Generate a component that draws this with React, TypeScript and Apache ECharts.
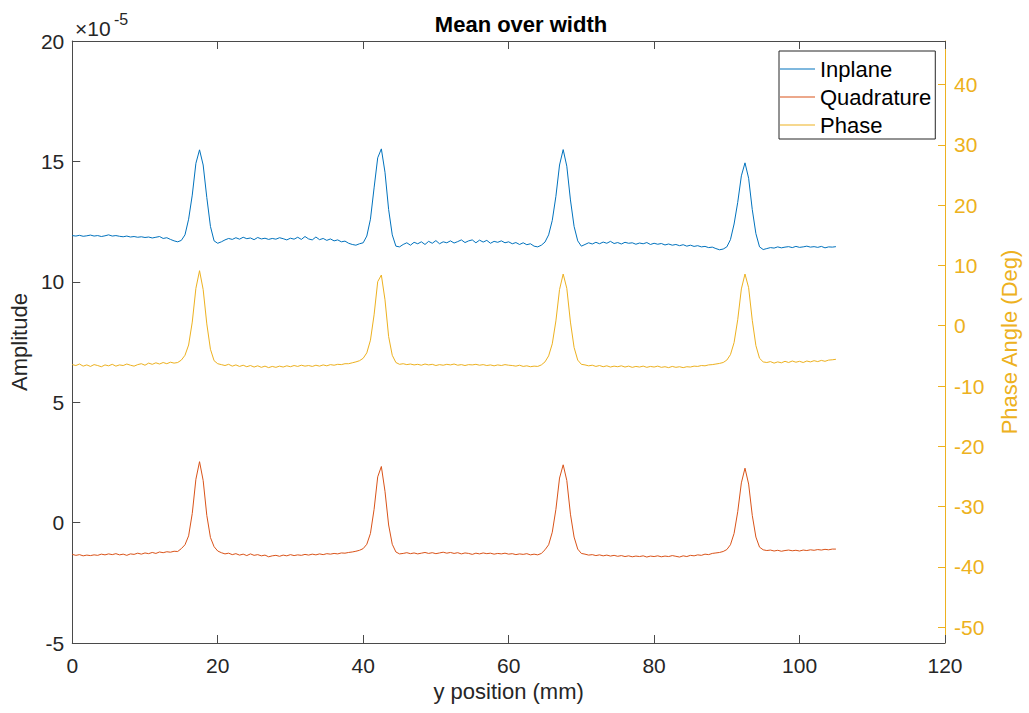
import React, { useEffect, useRef } from "react";
import * as echarts from "echarts";

// Sampling grid of the profile (mm between samples, starting at 0 mm)
const STEP_MM = 0.5;

// Amplitudes in units of 1e-5
const inplane = [
  11.92, 11.9, 11.93, 11.89, 11.91, 11.94, 11.9, 11.92, 11.88, 11.91, 11.95, 11.9, 11.92, 11.89, 11.87, 11.9, 11.86, 11.88, 11.85, 11.87, 11.84, 11.86, 11.82, 11.85, 11.88, 11.8, 11.83, 11.76, 11.7, 11.66,
  11.72, 11.95, 12.6, 13.6, 14.92, 15.48, 14.85, 13.5, 12.3, 11.7, 11.6,
  11.66, 11.74, 11.8, 11.76, 11.83, 11.77, 11.85, 11.79, 11.82, 11.75, 11.84, 11.78, 11.81, 11.76, 11.8, 11.77, 11.83, 11.79, 11.74, 11.81, 11.77, 11.85, 11.76, 11.88, 11.78, 11.74, 11.86, 11.75, 11.8, 11.72, 11.78, 11.7, 11.74, 11.66, 11.69, 11.6, 11.55, 11.52, 11.58,
  11.62, 11.9, 12.6, 13.9, 15.15, 15.52, 14.55, 13.0, 11.95, 11.48, 11.45,
  11.55, 11.62, 11.52, 11.64, 11.58, 11.66, 11.55, 11.68, 11.6, 11.71, 11.58, 11.66, 11.62, 11.7, 11.61, 11.67, 11.74, 11.63, 11.7, 11.74, 11.62, 11.73, 11.65, 11.72, 11.6, 11.68, 11.64, 11.7, 11.62, 11.66, 11.58, 11.63, 11.55, 11.62, 11.54, 11.58, 11.48, 11.45, 11.52,
  11.65, 11.95, 12.55, 13.55, 14.85, 15.49, 14.8, 13.4, 12.3, 11.7, 11.48,
  11.55, 11.62, 11.57, 11.64, 11.58, 11.65, 11.6, 11.68, 11.59, 11.63, 11.57, 11.64, 11.6, 11.62, 11.56, 11.61, 11.58, 11.63, 11.55, 11.6, 11.56, 11.59, 11.53, 11.57, 11.52, 11.55, 11.5, 11.54, 11.48, 11.52, 11.47, 11.5, 11.45, 11.47, 11.42, 11.44, 11.38, 11.33, 11.36,
  11.45, 11.75, 12.4, 13.3, 14.4, 14.94, 14.3, 13.0, 12.0, 11.45, 11.34,
  11.38, 11.42, 11.4, 11.45, 11.41, 11.44, 11.46, 11.42, 11.47, 11.43, 11.45, 11.48, 11.44, 11.46, 11.43, 11.47, 11.41, 11.45, 11.44, 11.46,
];

const quadrature = [
  -1.32, -1.36, -1.33, -1.38, -1.35, -1.37, -1.34, -1.36, -1.31, -1.34, -1.3, -1.33, -1.29, -1.34, -1.31, -1.36, -1.3, -1.32, -1.27, -1.31, -1.26, -1.29, -1.24, -1.28, -1.22, -1.25, -1.21, -1.23, -1.19, -1.2,
  -1.08, -0.92, -0.55, 0.38, 1.8, 2.53, 1.75, 0.3, -0.62, -1.0, -1.18,
  -1.25, -1.3, -1.27, -1.33, -1.29, -1.35, -1.31, -1.37, -1.3, -1.36, -1.33, -1.38, -1.35, -1.42, -1.38, -1.36, -1.4, -1.35, -1.38, -1.33, -1.37, -1.34, -1.36, -1.32, -1.35, -1.31, -1.34, -1.3, -1.33, -1.29, -1.31, -1.28, -1.3, -1.26, -1.27, -1.24, -1.22, -1.19, -1.15,
  -1.08, -0.9, -0.45, 0.55, 1.9, 2.33, 1.3, -0.1, -0.9, -1.22, -1.3,
  -1.28, -1.25, -1.29, -1.26, -1.3, -1.27, -1.24, -1.28, -1.25, -1.29, -1.26, -1.23, -1.27, -1.24, -1.28, -1.25, -1.3, -1.26, -1.28, -1.32, -1.27, -1.3, -1.26, -1.29, -1.27, -1.31, -1.28, -1.3, -1.27, -1.31, -1.29, -1.33, -1.3, -1.32, -1.29, -1.34, -1.31, -1.34, -1.28,
  -1.13, -0.92, -0.4, 0.55, 1.85, 2.4, 1.75, 0.35, -0.6, -1.1, -1.28,
  -1.31, -1.35, -1.33, -1.37, -1.34, -1.38, -1.35, -1.39, -1.36, -1.4, -1.37, -1.41, -1.38, -1.42, -1.39, -1.41, -1.38, -1.43, -1.39, -1.41, -1.38, -1.42, -1.39, -1.41, -1.37, -1.4, -1.43, -1.38, -1.41, -1.36, -1.38, -1.34, -1.36, -1.31, -1.33, -1.28, -1.26, -1.24, -1.2,
  -1.12, -0.92, -0.45, 0.45, 1.65, 2.26, 1.6, 0.3, -0.6, -1.02, -1.13,
  -1.16, -1.14, -1.18, -1.15, -1.19, -1.16, -1.14, -1.17, -1.15, -1.18, -1.14, -1.16, -1.13, -1.15, -1.12, -1.14, -1.11, -1.13, -1.1, -1.1,
];

// Phase angle in degrees (right axis)
const phase = [
  -6.45, -6.6, -6.35, -6.7, -6.5, -6.75, -6.45, -6.6, -6.8, -6.5, -6.65, -6.4, -6.7, -6.5, -6.6, -6.35, -6.55, -6.7, -6.45, -6.3, -6.55, -6.2, -6.4, -6.15, -6.35, -6.1, -6.3, -6.05, -6.2, -6.1,
  -5.7, -4.9, -3.2, 0.6, 6.2, 9.12, 6.0, 0.3, -3.9, -5.8, -6.3,
  -6.45, -6.6, -6.4, -6.7, -6.5, -6.75, -6.55, -6.8, -6.6, -6.85, -6.65, -6.9, -6.7, -6.95, -6.75, -6.9, -6.7, -6.85, -6.65, -6.8, -6.6, -6.75, -6.55, -6.7, -6.6, -6.75, -6.55, -6.7, -6.5, -6.65, -6.45, -6.55, -6.4, -6.45, -6.3, -6.3, -6.15, -6.0, -5.8,
  -5.4, -4.5, -2.4, 1.8, 7.3, 8.4, 4.3, -1.8, -4.9, -6.1, -6.4,
  -6.3, -6.45, -6.35, -6.5, -6.4, -6.55, -6.35, -6.5, -6.4, -6.6, -6.45, -6.55, -6.4, -6.5, -6.35, -6.55, -6.45, -6.6, -6.45, -6.5, -6.4, -6.55, -6.45, -6.6, -6.5, -6.65, -6.5, -6.6, -6.45, -6.55, -6.6, -6.7, -6.55, -6.75, -6.65, -6.8, -6.7, -6.75, -6.5,
  -6.0, -5.0, -3.0, 0.8, 6.0, 8.57, 6.2, 0.6, -3.6, -5.7, -6.4,
  -6.5, -6.65, -6.55, -6.75, -6.6, -6.8, -6.65, -6.85, -6.7, -6.8, -6.65, -6.85, -6.7, -6.9, -6.75, -6.85, -6.7, -6.9, -6.75, -6.85, -6.7, -6.9, -6.8, -6.95, -6.75, -6.9, -6.8, -6.95, -6.8, -6.85, -6.7, -6.75, -6.6, -6.65, -6.5, -6.45, -6.35, -6.25, -6.1,
  -5.7, -4.8, -2.8, 1.0, 6.1, 8.57, 6.3, 0.9, -3.3, -5.4, -6.0,
  -6.1, -5.95, -6.2, -6.0, -6.15, -5.9, -6.1, -5.85, -6.05, -5.9, -6.1, -5.85, -6.0, -5.8, -5.95, -5.75, -5.9, -5.7, -5.65, -5.57,
];

const seriesNames = ["Inplane", "Quadrature", "Phase"];
const leftTicks = [-5, 0, 5, 10, 15, 20];
const rightTicks = [-50, -40, -30, -20, -10, 0, 10, 20, 30, 40];
const X_MIN = 0;
const X_MAX = 120;
const X_INTERVAL = 20;
const RIGHT_MIN = -52.6;
const RIGHT_MAX = 47.2;

const FONT = "'Liberation Sans', Arial, Helvetica, sans-serif";
const DARK = "#262626";
const AXIS_LINE = "#4a4a4a";
const BLUE = "#0072BD";
const ORANGE = "#D95319";
const YELLOW = "#EDB120";

const toPairs = (arr: number[]) => arr.map((v, i) => [i * STEP_MM, v]);

export default function App() {
  const ref = useRef<HTMLDivElement>(null);
  useEffect(() => {
    if (!ref.current) return;
    const chart = echarts.init(ref.current, null, { renderer: "svg" });
    const option: any = {
      animation: false,
      backgroundColor: "#ffffff",
      textStyle: { fontFamily: FONT },
      title: {
        text: "Mean over width",
        left: 516,
        textAlign: "center",
        top: 8,
        textStyle: { fontFamily: FONT, fontSize: 22, fontWeight: "bold", color: "#000" },
      },
      grid: { left: 72, right: 84, top: 41, bottom: 70, containLabel: false },
      legend: {
        data: seriesNames,
        orient: "vertical",
        left: 779,
        top: 51,
        icon: "rect",
        itemWidth: 35,
        itemHeight: 1,
        itemGap: 6,
        padding: [7, 4, 3, 1],
        borderColor: DARK,
        borderWidth: 1,
        backgroundColor: "#ffffff",
        textStyle: { fontFamily: FONT, fontSize: 22, color: "#000" },
      },
      xAxis: [
        {
          type: "value",
          position: "bottom",
          min: X_MIN,
          max: X_MAX,
          interval: X_INTERVAL,
          name: "y position (mm)",
          nameLocation: "middle",
          nameGap: 36,
          nameTextStyle: { fontFamily: FONT, fontSize: 22, color: DARK },
          axisLine: { show: true, onZero: false, lineStyle: { color: AXIS_LINE, width: 1 } },
          axisTick: { show: true, inside: true, length: 8, lineStyle: { color: AXIS_LINE } },
          axisLabel: { fontFamily: FONT, fontSize: 21, color: DARK, margin: 12 },
          splitLine: { show: false },
        },
        {
          type: "value",
          position: "top",
          min: X_MIN,
          max: X_MAX,
          interval: X_INTERVAL,
          axisLine: { show: true, onZero: false, lineStyle: { color: AXIS_LINE, width: 1 } },
          axisTick: { show: true, inside: true, length: 8, lineStyle: { color: AXIS_LINE } },
          axisLabel: { show: false },
          splitLine: { show: false },
        },
      ],
      yAxis: [
        {
          type: "value",
          position: "left",
          min: leftTicks[0],
          max: leftTicks[leftTicks.length - 1],
          interval: 5,
          name: "Amplitude",
          nameLocation: "middle",
          nameGap: 39,
          nameRotate: 90,
          nameTextStyle: { fontFamily: FONT, fontSize: 22, color: DARK },
          axisLine: { show: true, onZero: false, lineStyle: { color: AXIS_LINE, width: 1 } },
          axisTick: { show: true, inside: true, length: 8, lineStyle: { color: AXIS_LINE } },
          axisLabel: { fontFamily: FONT, fontSize: 21, color: DARK, margin: 8 },
          splitLine: { show: false },
        },
        {
          type: "value",
          position: "right",
          min: RIGHT_MIN,
          max: RIGHT_MAX,
          name: "Phase Angle (Deg)",
          nameLocation: "middle",
          nameGap: 53,
          nameRotate: 90,
          nameTextStyle: { fontFamily: FONT, fontSize: 22, color: YELLOW },
          axisLine: { show: true, onZero: false, lineStyle: { color: YELLOW, width: 1 } },
          axisTick: { show: true, inside: true, length: 7, customValues: rightTicks, lineStyle: { color: YELLOW } },
          axisLabel: { fontFamily: FONT, fontSize: 21, color: YELLOW, margin: 9, customValues: rightTicks },
          splitLine: { show: false },
        },
      ],
      graphic: [
        {
          type: "text",
          x: 75,
          y: 18,
          style: {
            text: "×10",
            font: "21px 'Liberation Sans', Arial, sans-serif",
            fontSize: 21,
            fill: DARK,
            verticalAlign: "top",
          },
        },
        {
          type: "text",
          x: 114,
          y: 11,
          style: {
            text: "-5",
            font: "16px 'Liberation Sans', Arial, sans-serif",
            fontSize: 16,
            fill: DARK,
            verticalAlign: "top",
          },
        },
      ],
      series: [
        {
          name: seriesNames[0],
          type: "line",
          xAxisIndex: 0,
          yAxisIndex: 0,
          data: toPairs(inplane),
          showSymbol: false,
          symbol: "none",
          lineStyle: { color: BLUE, width: 1 },
          itemStyle: { color: BLUE },
        },
        {
          name: seriesNames[1],
          type: "line",
          xAxisIndex: 0,
          yAxisIndex: 0,
          data: toPairs(quadrature),
          showSymbol: false,
          symbol: "none",
          lineStyle: { color: ORANGE, width: 1 },
          itemStyle: { color: ORANGE },
        },
        {
          name: seriesNames[2],
          type: "line",
          xAxisIndex: 0,
          yAxisIndex: 1,
          data: toPairs(phase),
          showSymbol: false,
          symbol: "none",
          lineStyle: { color: YELLOW, width: 1 },
          itemStyle: { color: YELLOW },
        },
      ],
    };
    chart.setOption(option);
    return () => chart.dispose();
  }, []);
  return (
    <div
      ref={ref}
      style={{ position: "absolute", left: 0, top: 0, width: 1029, height: 713, background: "#fff" }}
    />
  );
}
